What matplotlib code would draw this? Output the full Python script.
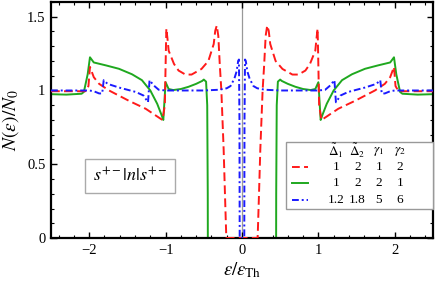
import matplotlib
matplotlib.use("Agg")
import matplotlib.pyplot as plt
from matplotlib.patches import Rectangle

plt.rcParams['font.family'] = ['Liberation Serif', 'DejaVu Serif']
plt.rcParams['mathtext.fontset'] = 'stix'

# Red dashed: D1=1, D2=2, g1=1, g2=2
red_x = [-2.5, -2.2, -2.05, -2.01, -1.99, -1.94, -1.87, -1.74, -1.48, -1.26, -1.07, -1.04,
         -1.01, -0.995, -0.99, -0.975, -0.96, -0.89, -0.83, -0.74, -0.66, -0.53, -0.44, -0.37,
         -0.35, -0.33, -0.31, -0.29, -0.27, -0.24, -0.22, -0.205,
         0.205, 0.22, 0.24, 0.27, 0.29, 0.31, 0.33, 0.35, 0.37, 0.44, 0.53, 0.66, 0.74,
         0.83, 0.89, 0.96, 0.975, 0.99, 0.995, 1.01, 1.04, 1.07, 1.26, 1.48, 1.74, 1.87,
         1.94, 1.99, 2.01, 2.05, 2.2, 2.5]
red_y = [0.995, 0.995, 0.995, 1.03, 1.16, 1.09, 1.045, 1.0, 0.93, 0.876, 0.81, 0.80,
         0.9, 1.3, 1.42, 1.35, 1.27, 1.18, 1.135, 1.108, 1.108, 1.146, 1.20, 1.315,
         1.405, 1.44, 1.37, 1.17, 1.0, 0.6, 0.25, 0.0,
         0.0, 0.25, 0.6, 1.0, 1.17, 1.37, 1.44, 1.405, 1.315, 1.20, 1.146, 1.108, 1.108,
         1.135, 1.18, 1.27, 1.35, 1.42, 1.3, 0.9, 0.80, 0.81, 0.876, 0.93, 1.0, 1.045,
         1.09, 1.16, 1.03, 0.995, 0.995, 0.995]

# Green solid: D1=1, D2=2, g1=2, g2=1
green_x = [-2.5, -2.3, -2.1, -2.07, -2.02, -1.99, -1.94, -1.78, -1.61, -1.44, -1.31, -1.2,
           -1.11, -1.05, -1.03, -1.0, -0.96, -0.9, -0.8, -0.7, -0.6, -0.52, -0.50, -0.47,
           -0.455, -0.448, -0.447,
           0.447, 0.448, 0.455, 0.47, 0.50, 0.52, 0.6, 0.7, 0.8, 0.9, 0.96, 1.0, 1.03,
           1.05, 1.11, 1.2, 1.31, 1.44, 1.61, 1.78, 1.94, 1.99, 2.02, 2.07, 2.1, 2.3, 2.5]
green_y = [0.975, 0.972, 0.978, 0.99, 1.11, 1.225, 1.19, 1.17, 1.147, 1.11, 1.07, 1.0,
           0.91, 0.83, 0.80, 1.056, 1.01, 1.003, 1.01, 1.025, 1.045, 1.065, 1.074, 1.06,
           0.9, 0.3, 0.0,
           0.0, 0.3, 0.9, 1.06, 1.074, 1.065, 1.045, 1.025, 1.01, 1.003, 1.01, 1.056, 0.80,
           0.83, 0.91, 1.0, 1.07, 1.11, 1.147, 1.17, 1.19, 1.225, 1.11, 0.99, 0.978, 0.972, 0.975]

# Blue dash-dot: D1=1.2, D2=1.8, g1=5, g2=6
blue_x = [-2.5, -2.0, -1.94, -1.87, -1.83, -1.81, -1.76, -1.61, -1.39, -1.29, -1.23, -1.21,
          -1.155, -1.09, -1.0, -0.5, -0.3, -0.2, -0.15, -0.1, -0.07, -0.05, -0.04, -0.033,
          -0.03,
          0.03, 0.033, 0.04, 0.05, 0.07, 0.1, 0.15, 0.2, 0.3, 0.5, 1.0, 1.09, 1.155, 1.21,
          1.23, 1.29, 1.39, 1.61, 1.76, 1.81, 1.83, 1.87, 1.94, 2.0, 2.5]
blue_y = [1.0, 1.0, 0.995, 0.98, 0.98, 1.07, 1.045, 1.02, 0.99, 0.966, 0.92, 1.07,
          1.034, 1.005, 1.0, 1.0, 1.005, 1.015, 1.03, 1.08, 1.13, 1.2, 1.21, 0.8,
          0.0,
          0.0, 0.8, 1.21, 1.2, 1.13, 1.08, 1.03, 1.015, 1.005, 1.0, 1.0, 1.005, 1.034, 1.07,
          0.92, 0.966, 0.99, 1.02, 1.045, 1.07, 0.98, 0.98, 0.995, 1.0, 1.0]

legend_header = [r'$\tilde{\Delta}_1$', r'$\tilde{\Delta}_2$', r'$\gamma_1$', r'$\gamma_2$']
legend_rows = [['1', '2', '1', '2'], ['1', '2', '2', '1'], ['1.2', '1.8', '5', '6']]

x_ticks = [-2, -1, 0, 1, 2]
x_ticklabels = ['\u22122', '\u22121', '0', '1', '2']
y_ticks = [0, 0.5, 1, 1.5]
y_ticklabels = ['0', '0.5', '1', '1.5']

red = '#ff1a1a'
green = '#1fa81f'
blue = '#1a1aff'

fig = plt.figure(figsize=(4.36, 2.83), dpi=100)
ax = fig.add_axes([0.117, 0.159, 0.876, 0.834])

ax.axvline(0, color='#999999', lw=0.9, zorder=1)
ax.plot(red_x, red_y, color=red, lw=1.4, dashes=(4.5, 2.2), zorder=3)
ax.plot(green_x, green_y, color=green, lw=1.4, zorder=2)
ax.plot(blue_x, blue_y, color=blue, lw=1.4, dashes=(3.5, 1.5, 1.0, 1.5), zorder=4)

ax.set_xlim(-2.5, 2.5)
ax.set_ylim(0, 1.6)
ax.set_xticks(x_ticks)
ax.set_xticklabels(x_ticklabels)
ax.set_yticks(y_ticks)
ax.set_yticklabels(y_ticklabels)
ax.set_xticks([i * 0.2 - 2.4 for i in range(25)], minor=True)
ax.set_yticks([i * 0.1 for i in range(17)], minor=True)
ax.tick_params(which='both', direction='in', top=True, right=True, labelsize=10.5, pad=4)
ax.tick_params(which='major', length=4, width=1)
ax.tick_params(which='minor', length=2, width=0.8)
for s in ax.spines.values():
    s.set_linewidth(1.6)

ax.set_xlabel(r'$\varepsilon/\varepsilon_{\rm Th}$', fontsize=13.5, labelpad=3)
ax.set_ylabel(r'$N(\varepsilon)/N_0$', fontsize=14, labelpad=4)

# text box
ax.text(-1.465, 0.42, r'$s^{+-}|n|s^{+-}$', fontsize=13, ha='center', va='center',
        bbox=dict(boxstyle='square,pad=0.45', fc='white', ec='#aaaaaa', lw=1.0), zorder=6)

# manual legend
ax.add_patch(Rectangle((0.57, 0.196), 1.93, 0.454, fc='white', ec='#999999', lw=1.0,
                       zorder=6, clip_on=False))
col_x = [1.23, 1.51, 1.79, 2.07]
row_y = [0.478, 0.372, 0.257]
for cx, h in zip(col_x, legend_header):
    ax.text(cx, 0.587, h, fontsize=9.5, ha='center', va='center', zorder=7)
styles = [dict(color=red, dashes=(4, 2.2)), dict(color=green), dict(color=blue, dashes=(3.5, 1.5, 1.0, 1.5))]
for ry, row, st in zip(row_y, legend_rows, styles):
    ax.plot([0.655, 0.86], [ry, ry], lw=1.4, zorder=7, clip_on=False, **st)
    for cx, v in zip(col_x, row):
        ax.text(cx, ry, v, fontsize=9.5, ha='center', va='center', zorder=7)

fig.savefig('out.png', dpi=100)
